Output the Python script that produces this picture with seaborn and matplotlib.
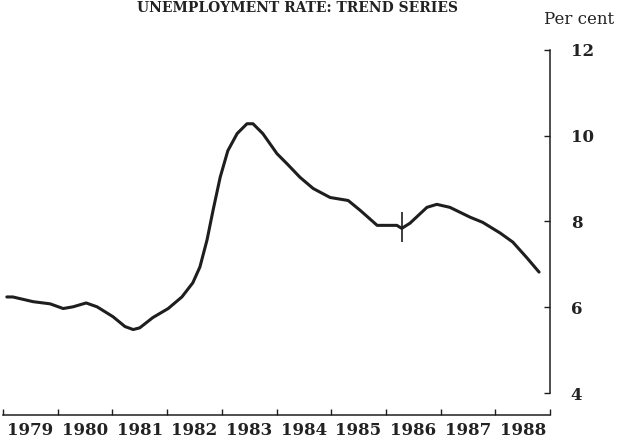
import matplotlib
matplotlib.use("Agg")
import matplotlib.pyplot as plt
import seaborn as sns
import pandas as pd

# trend series
years = [1979.07, 1979.18, 1979.55, 1979.86, 1980.10, 1980.28, 1980.52, 1980.72,
         1981.01, 1981.23, 1981.38, 1981.50, 1981.74, 1982.02, 1982.27, 1982.47,
         1982.60, 1982.73, 1982.84, 1982.97, 1983.11, 1983.28, 1983.46, 1983.57,
         1983.75, 1984.01, 1984.19, 1984.43, 1984.67, 1984.98, 1985.31, 1985.53,
         1985.84, 1986.20, 1986.29, 1986.44, 1986.75, 1986.93, 1987.17, 1987.54,
         1987.77, 1988.09, 1988.32, 1988.58, 1988.80]
rate = [6.24, 6.24, 6.13, 6.08, 5.97, 6.01, 6.10, 6.01,
        5.78, 5.55, 5.48, 5.52, 5.76, 5.97, 6.24, 6.57,
        6.94, 7.57, 8.26, 9.03, 9.65, 10.05, 10.28, 10.28,
        10.05, 9.58, 9.35, 9.03, 8.77, 8.56, 8.49, 8.26,
        7.91, 7.91, 7.84, 7.96, 8.33, 8.40, 8.33, 8.10,
        7.98, 7.73, 7.52, 7.15, 6.82]

break_year = 1986.29
break_span = [7.52, 8.22]

year_labels = [str(y) for y in range(1979, 1989)]
y_ticks = [4, 6, 8, 10, 12]

df = pd.DataFrame({"year": years, "rate": rate})

sns.set_style("white")
fig = plt.figure(figsize=(6.19, 4.40), dpi=100)
ax = fig.add_axes([3 / 619, 47 / 440, 547 / 619, 343 / 440])

sns.lineplot(data=df, x="year", y="rate", ax=ax, color="#1e1e1e",
             linewidth=2.2, sort=False, estimator=None,
             solid_joinstyle="round", solid_capstyle="round")
ax.vlines(break_year, break_span[0], break_span[1], color="#1e1e1e", linewidth=1.2)

ax.set_xlim(1979, 1989)
ax.set_ylim(4, 12)
ax.set_xlabel("")
ax.set_ylabel("")

for s in ["top", "left"]:
    ax.spines[s].set_visible(False)
ax.spines["bottom"].set_position(("outward", 16))
for s in ["bottom", "right"]:
    ax.spines[s].set_color("#1e1e1e")
    ax.spines[s].set_linewidth(1.1)

# year boundaries as ticks, year names centred between them
ax.set_xticks(range(1979, 1990))
ax.set_xticklabels([])
ax.set_xticks([y + 0.5 for y in range(1979, 1989)], minor=True)
ax.set_xticklabels(year_labels, minor=True, fontsize=12, fontweight="bold",
                   family="DejaVu Serif", color="#222222")
ax.tick_params(axis="x", which="major", direction="in", length=4, width=1,
               color="#1e1e1e", bottom=True)
ax.tick_params(axis="x", which="minor", length=0, pad=5)

ax.yaxis.tick_right()
ax.set_yticks(y_ticks)
ax.set_yticklabels([str(v) for v in y_ticks], fontsize=12, fontweight="bold",
                   family="DejaVu Serif", color="#222222")
ax.tick_params(axis="y", direction="in", length=4, width=1, color="#1e1e1e",
               pad=15, right=True, left=False)

fig.text(0.992, 0.955, "Per cent", ha="right", va="center", fontsize=12,
         family="DejaVu Serif", color="#222222")
fig.text(0.48, 0.998, "UNEMPLOYMENT RATE: TREND SERIES", ha="center",
         va="top", fontsize=10, fontweight="bold", family="DejaVu Serif",
         color="#222222")

fig.savefig("out.png", dpi=100)
